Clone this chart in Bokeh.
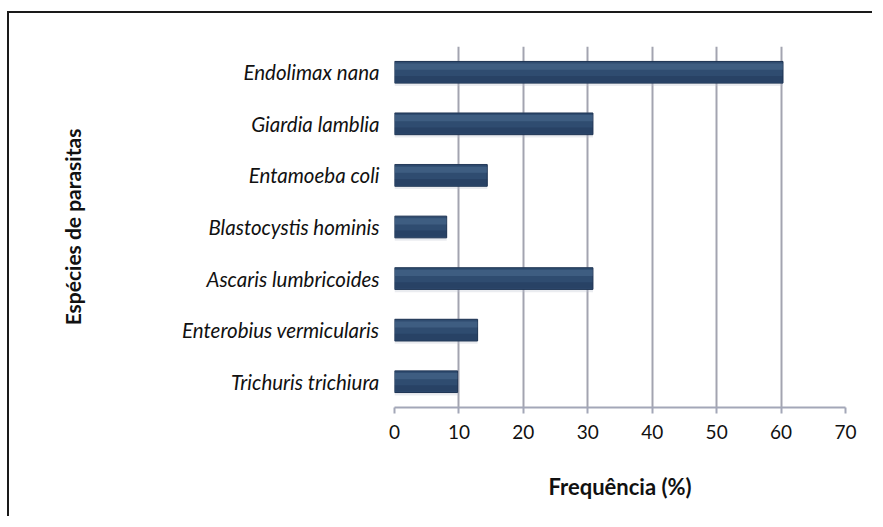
from bokeh.plotting import figure
from bokeh.models import FactorRange, Range1d, ColumnDataSource, FixedTicker
from bokeh.transform import dodge
from bokeh.embed import file_html
from bokeh.resources import INLINE

species = ["Endolimax nana", "Giardia lamblia", "Entamoeba coli",
           "Blastocystis hominis", "Ascaris lumbricoides",
           "Enterobius vermicularis", "Trichuris trichiura"]
frequency = [60.3, 30.8, 14.4, 8.1, 30.8, 12.9, 9.8]
x_ticks = [0, 10, 20, 30, 40, 50, 60, 70]
x_title = "Frequência (%)"
y_title = "Espécies de parasitas"

src = ColumnDataSource(dict(species=species, freq=frequency))

p = figure(width=865, height=505,
           y_range=FactorRange(factors=list(reversed(species)), range_padding=0),
           x_range=Range1d(0, 70),
           output_backend="svg", toolbar_location=None,
           min_border_left=385, min_border_right=29,
           min_border_top=33, min_border_bottom=111,
           background_fill_color="white", border_fill_color="white")
p.styles = {"border-left": "2px solid #1a1a1a", "border-top": "2px solid #1a1a1a",
            "margin-top": "11px", "margin-left": "7px"}

# soft shadow
p.hbar(y=dodge("species", -0.02, range=p.y_range), left=0, right="freq", height=0.49,
       source=src, fill_color="#b9c0cc", fill_alpha=0.3, line_color=None)
# bar body
p.hbar(y="species", left=0, right="freq", height=0.42, source=src,
       fill_color="#2f4c70", line_color="#1d3352", line_width=1)
# lower darker band
p.hbar(y=dodge("species", -0.13, range=p.y_range), left=0, right="freq", height=0.12,
       source=src, fill_color="#1c3150", fill_alpha=0.35, line_color=None)
# highlight
p.hbar(y=dodge("species", 0.11, range=p.y_range), left=0, right="freq", height=0.12,
       source=src, fill_color="#6483aa", fill_alpha=0.3, line_color=None)

p.outline_line_color = None
p.ygrid.grid_line_color = None
p.xgrid.ticker = FixedTicker(ticks=x_ticks)
p.xgrid.grid_line_color = "#a3a4b0"
p.xgrid.grid_line_width = 2
p.xgrid.level = "underlay"

xa = p.xaxis[0]
xa.ticker = FixedTicker(ticks=x_ticks)
xa.axis_line_color = "#a3a7b8"
xa.axis_line_width = 2
xa.major_tick_line_color = "#a3a7b8"
xa.major_tick_line_width = 2
xa.major_tick_out = 6
xa.major_tick_in = 0
xa.minor_tick_line_color = None
xa.major_label_text_font = "Lato"
xa.major_label_text_font_size = "19px"
xa.major_label_text_color = "#111111"
xa.major_label_standoff = 11
xa.axis_label = x_title
xa.axis_label_text_font = "Lato"
xa.axis_label_text_font_style = "bold"
xa.axis_label_text_font_size = "22px"
xa.axis_label_text_color = "#111111"
xa.axis_label_standoff = 31

ya = p.yaxis[0]
ya.axis_line_color = None
ya.major_tick_line_color = None
ya.minor_tick_line_color = None
ya.major_label_text_font = "Lato"
ya.major_label_text_font_style = "italic"
ya.major_label_text_font_size = "20.5px"
ya.major_label_text_color = "#111111"
ya.major_label_standoff = 9
ya.axis_label = y_title
ya.axis_label_text_font = "Lato"
ya.axis_label_text_font_style = "bold"
ya.axis_label_text_font_size = "21px"
ya.axis_label_text_color = "#111111"
ya.axis_label_standoff = 94

open("out.html", "w").write(file_html(p, INLINE))
